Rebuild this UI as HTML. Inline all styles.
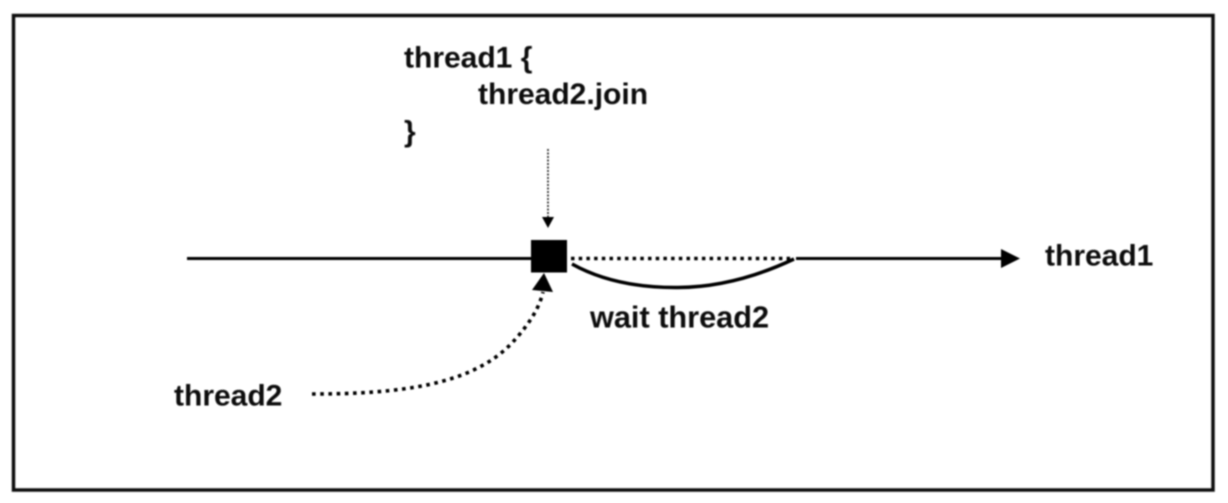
<!DOCTYPE html>
<html><head><meta charset="utf-8"><style>
html,body{margin:0;padding:0;background:#fff;width:1228px;height:503px;overflow:hidden}
svg{display:block}
text{font-family:"Liberation Sans",sans-serif;font-weight:bold;font-size:30px;fill:#111}
</style></head><body>
<svg width="1228" height="503" viewBox="0 0 1228 503">
<defs><filter id="b" x="-5%" y="-5%" width="110%" height="110%"><feGaussianBlur stdDeviation="0.8"/></filter></defs>
<rect width="1228" height="503" fill="#fff"/>
<g filter="url(#b)">
<rect x="13.5" y="15.5" width="1199.5" height="474.5" fill="none" stroke="#111" stroke-width="3.5"/>
<text x="404" y="67.5">thread1 {</text>
<text x="478" y="104">thread2.join</text>
<text x="404" y="141.5">}</text>
<text x="1045" y="265.5">thread1</text>
<text x="590" y="327.5" style="font-size:30.7px">wait thread2</text>
<text x="174" y="405.5">thread2</text>
<line x1="187" y1="258.5" x2="532" y2="258.5" stroke="#000" stroke-width="3"/>
<rect x="531" y="240" width="36" height="32.5" fill="#000"/>
<line x1="571" y1="258.5" x2="794" y2="258.5" stroke="#000" stroke-width="3.5" stroke-dasharray="3.5 4.2"/>
<line x1="796" y1="258.5" x2="1003" y2="258.5" stroke="#000" stroke-width="3"/>
<polygon points="1001,249 1020,258.5 1001,268" fill="#000"/>
<path d="M572 264 Q615 288 678 287.5 Q735 287 794 259" fill="none" stroke="#000" stroke-width="3.5"/>
<line x1="548" y1="149" x2="548" y2="218" stroke="#222" stroke-width="1.6" stroke-dasharray="2 1.5"/>
<polygon points="542,217 554,217 548,228" fill="#000"/>
<path d="M312 394 C400 394 470 385 510 345 C532 322 540 305 543 292" fill="none" stroke="#000" stroke-width="3.6" stroke-dasharray="3.6 4.6"/>
<polygon points="544,273 553,292 532,290" fill="#000"/>
</g>
</svg>
</body></html>
